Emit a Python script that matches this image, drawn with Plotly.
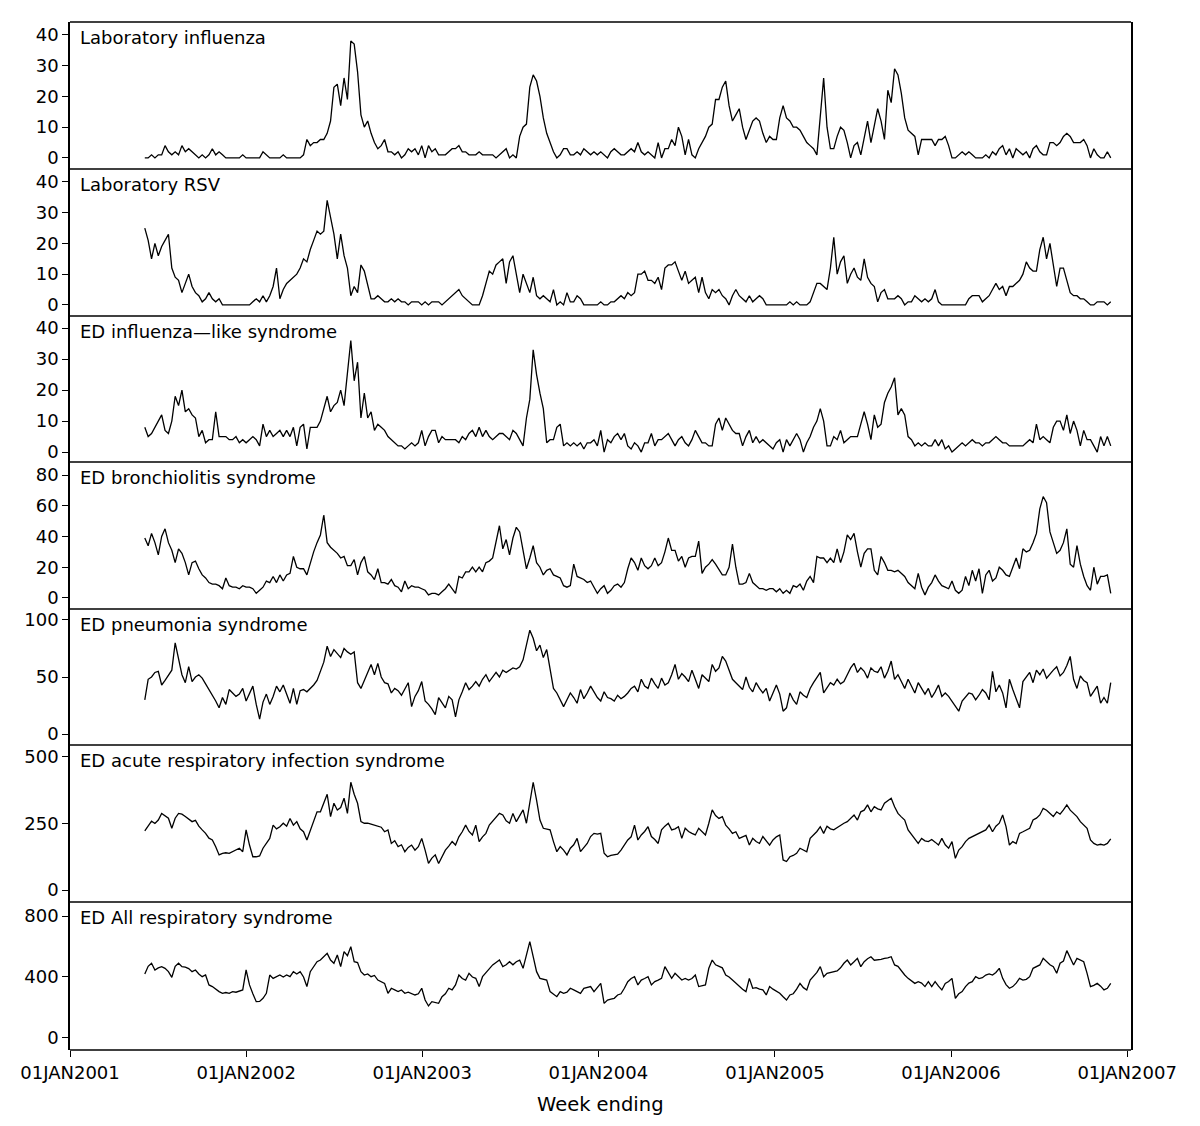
import pandas as pd
import plotly.graph_objects as go
from plotly.subplots import make_subplots

START = "2001-06-05"

LAB_FLU = [
    0, 0, 1, 0, 1, 1, 4, 2, 1, 2,
    1, 4, 2, 3, 2, 1, 0, 1, 0, 1,
    3, 1, 2, 1, 0, 0, 0, 0, 0, 1,
    0, 0, 0, 0, 0, 2, 1, 0, 0, 0,
    0, 1, 0, 0, 0, 0, 0, 1, 6, 4,
    5, 5, 6, 6, 8, 12, 23, 24, 17, 26,
    19, 38, 37, 28, 14, 10, 12, 8, 5, 3,
    4, 6, 2, 2, 1, 2, 0, 1, 3, 2,
    3, 1, 4, 0, 4, 2, 3, 1, 1, 1,
    2, 3, 3, 4, 2, 2, 1, 1, 1, 2,
    1, 1, 1, 1, 0, 1, 2, 3, 0, 1,
    0, 7, 10, 11, 23, 27, 25, 20, 13, 8,
    5, 2, 0, 1, 3, 3, 1, 1, 2, 1,
    3, 2, 1, 2, 1, 2, 1, 0, 2, 3,
    2, 1, 1, 2, 3, 2, 5, 2, 1, 2,
    1, 0, 5, 0, 3, 3, 6, 4, 10, 7,
    1, 6, 1, 0, 3, 5, 7, 10, 11, 19,
    19, 23, 25, 17, 12, 14, 16, 10, 6, 9,
    12, 13, 12, 8, 5, 7, 6, 6, 13, 17,
    13, 12, 10, 10, 9, 7, 5, 4, 3, 1,
    13, 26, 10, 3, 3, 7, 10, 9, 5, 0,
    4, 5, 1, 7, 12, 5, 11, 16, 12, 6,
    22, 18, 29, 27, 21, 13, 9, 8, 7, 1,
    6, 6, 6, 6, 4, 6, 6, 7, 4, 0,
    0, 1, 2, 1, 2, 1, 0, 0, 0, 1,
    0, 2, 1, 3, 4, 1, 3, 0, 3, 2,
    1, 2, 0, 3, 4, 2, 1, 1, 5, 5,
    4, 5, 7, 8, 7, 5, 5, 5, 6, 4,
    0, 3, 1, 0, 0, 2, 0,
]

LAB_RSV = [
    25, 21, 15, 20, 16, 19, 21, 23, 12, 9,
    8, 4, 7, 10, 6, 4, 3, 1, 2, 4,
    2, 1, 2, 0, 0, 0, 0, 0, 0, 0,
    0, 0, 1, 2, 1, 3, 1, 3, 6, 12,
    2, 5, 7, 8, 9, 10, 12, 15, 14, 18,
    21, 24, 23, 24, 34, 29, 23, 15, 23, 16,
    12, 3, 6, 4, 13, 11, 6, 2, 2, 3,
    2, 1, 1, 2, 1, 2, 1, 1, 0, 1,
    1, 1, 0, 1, 0, 1, 1, 1, 0, 1,
    2, 3, 4, 5, 3, 2, 1, 0, 0, 0,
    3, 7, 11, 10, 13, 14, 15, 7, 14, 16,
    10, 4, 10, 7, 4, 9, 3, 2, 3, 2,
    1, 5, 0, 1, 0, 4, 1, 1, 3, 2,
    0, 0, 0, 0, 0, 1, 0, 0, 1, 1,
    2, 3, 2, 4, 3, 4, 10, 10, 11, 8,
    8, 7, 9, 5, 12, 13, 13, 14, 11, 8,
    11, 7, 8, 9, 4, 9, 4, 2, 5, 4,
    5, 3, 2, 0, 3, 5, 3, 2, 1, 3,
    1, 2, 3, 2, 0, 0, 0, 0, 0, 0,
    0, 1, 0, 1, 0, 0, 0, 1, 4, 7,
    7, 6, 5, 12, 22, 10, 14, 16, 7, 10,
    12, 9, 8, 15, 9, 7, 6, 1, 4, 5,
    2, 2, 2, 3, 2, 0, 1, 1, 3, 2,
    1, 2, 1, 2, 5, 1, 0, 0, 0, 0,
    0, 0, 0, 0, 2, 3, 3, 3, 1, 2,
    3, 5, 7, 5, 6, 3, 6, 6, 7, 8,
    10, 14, 12, 11, 11, 18, 22, 15, 20, 13,
    6, 12, 12, 8, 4, 3, 3, 2, 2, 1,
    0, 0, 1, 1, 1, 0, 1,
]

ED_ILI = [
    8, 5, 6, 8, 10, 12, 7, 6, 10, 18,
    15, 20, 13, 14, 12, 11, 5, 7, 3, 4,
    4, 13, 5, 5, 5, 4, 4, 5, 3, 4,
    3, 4, 5, 4, 2, 9, 5, 7, 5, 6,
    7, 5, 7, 5, 8, 2, 8, 9, 1, 8,
    8, 8, 10, 14, 18, 13, 15, 16, 20, 15,
    25, 36, 23, 29, 11, 19, 11, 13, 7, 9,
    8, 7, 5, 4, 3, 2, 2, 1, 2, 3,
    2, 3, 7, 2, 5, 7, 7, 3, 5, 4,
    4, 4, 4, 3, 5, 4, 6, 7, 5, 8,
    5, 7, 5, 4, 5, 6, 6, 5, 4, 7,
    6, 4, 2, 11, 17, 33, 25, 19, 14, 3,
    4, 4, 8, 9, 2, 3, 2, 3, 2, 3,
    1, 3, 3, 4, 2, 7, 0, 4, 3, 5,
    6, 4, 6, 2, 1, 3, 2, 0, 3, 3,
    6, 2, 4, 4, 5, 6, 4, 2, 4, 5,
    3, 2, 4, 7, 5, 3, 3, 2, 2, 9,
    11, 7, 11, 9, 7, 6, 6, 2, 5, 7,
    3, 5, 3, 4, 3, 2, 1, 3, 4, 0,
    4, 2, 4, 6, 4, 0, 3, 5, 8, 10,
    14, 10, 2, 2, 5, 4, 7, 3, 4, 5,
    5, 5, 9, 13, 9, 4, 12, 8, 9, 16,
    19, 21, 24, 12, 14, 12, 5, 4, 2, 3,
    2, 3, 2, 2, 4, 2, 4, 1, 2, 0,
    1, 2, 3, 2, 3, 4, 3, 3, 2, 3,
    3, 4, 5, 4, 3, 3, 2, 2, 2, 2,
    2, 3, 4, 3, 9, 4, 5, 4, 3, 8,
    10, 10, 7, 12, 6, 10, 7, 2, 7, 4,
    4, 2, 0, 5, 2, 5, 2,
]

ED_BRONCH = [
    39, 34, 42, 36, 28, 40, 45, 36, 31, 23,
    32, 29, 23, 15, 23, 24, 19, 15, 13, 10,
    9, 9, 8, 6, 13, 8, 7, 7, 6, 8,
    7, 7, 6, 3, 5, 7, 11, 10, 14, 10,
    15, 11, 15, 16, 27, 20, 19, 19, 15, 23,
    30, 36, 41, 54, 36, 33, 31, 29, 26, 27,
    21, 21, 25, 15, 23, 27, 17, 15, 12, 19,
    10, 10, 9, 12, 8, 7, 4, 11, 6, 8,
    7, 7, 6, 5, 2, 3, 3, 2, 4, 6,
    9, 6, 3, 14, 13, 17, 17, 20, 17, 20,
    17, 23, 24, 26, 36, 47, 32, 38, 28, 39,
    46, 43, 31, 19, 26, 34, 23, 20, 15, 18,
    19, 15, 14, 13, 8, 7, 8, 22, 14, 13,
    12, 10, 11, 7, 3, 6, 8, 3, 5, 8,
    9, 7, 10, 19, 26, 23, 18, 26, 21, 19,
    21, 26, 21, 23, 30, 39, 31, 31, 24, 27,
    20, 26, 27, 27, 37, 16, 20, 22, 25, 22,
    18, 15, 15, 20, 35, 20, 9, 9, 10, 16,
    10, 8, 6, 6, 5, 6, 6, 4, 6, 3,
    5, 3, 8, 7, 9, 5, 11, 14, 10, 27,
    26, 26, 23, 26, 23, 32, 23, 30, 41, 38,
    42, 30, 20, 29, 32, 32, 18, 15, 27, 23,
    18, 18, 17, 18, 16, 14, 10, 8, 6, 16,
    7, 2, 7, 10, 15, 11, 8, 7, 6, 11,
    5, 3, 5, 14, 8, 18, 11, 19, 3, 15,
    18, 11, 13, 20, 18, 15, 14, 20, 26, 19,
    32, 30, 31, 36, 42, 58, 66, 62, 43, 36,
    29, 31, 36, 45, 22, 20, 34, 22, 14, 8,
    5, 20, 9, 14, 14, 15, 3,
]

ED_PNEU = [
    30, 48, 50, 54, 55, 43, 47, 51, 56, 80,
    67, 52, 45, 59, 46, 50, 52, 49, 44, 39,
    35, 29, 23, 32, 26, 39, 36, 33, 35, 40,
    29, 36, 42, 26, 13, 28, 35, 26, 33, 42,
    37, 43, 35, 27, 40, 26, 38, 39, 37, 40,
    43, 47, 55, 63, 77, 68, 74, 70, 67, 75,
    72, 70, 72, 45, 40, 47, 54, 61, 52, 62,
    50, 45, 44, 36, 40, 38, 34, 40, 45, 24,
    33, 38, 46, 29, 26, 22, 17, 32, 27, 23,
    33, 30, 15, 30, 37, 45, 39, 42, 46, 42,
    48, 52, 46, 50, 54, 50, 56, 54, 56, 58,
    57, 59, 65, 78, 91, 84, 73, 78, 67, 74,
    58, 40, 36, 30, 24, 30, 36, 32, 27, 39,
    31, 36, 42, 37, 32, 29, 37, 32, 31, 29,
    34, 31, 33, 36, 40, 42, 37, 48, 42, 40,
    49, 44, 40, 49, 43, 45, 52, 61, 48, 53,
    50, 46, 56, 48, 40, 52, 49, 46, 61, 55,
    58, 68, 64, 55, 48, 45, 42, 39, 50, 41,
    37, 45, 40, 36, 40, 29, 36, 43, 35, 20,
    23, 36, 30, 26, 37, 34, 32, 40, 45, 49,
    54, 36, 40, 45, 43, 48, 44, 46, 52, 58,
    62, 54, 58, 55, 49, 58, 55, 54, 59, 49,
    55, 64, 48, 52, 46, 40, 48, 42, 36, 45,
    40, 35, 40, 32, 37, 43, 33, 36, 33, 29,
    25, 20, 29, 33, 36, 35, 30, 34, 39, 36,
    30, 55, 37, 43, 36, 23, 48, 39, 30, 23,
    46, 50, 54, 45, 56, 52, 57, 49, 53, 56,
    59, 51, 54, 60, 68, 48, 40, 51, 47, 45,
    33, 38, 42, 27, 32, 27, 45,
]

ED_ARI = [
    222, 240, 259, 250, 263, 288, 280, 270, 232, 270,
    288, 285, 276, 265, 257, 262, 240, 226, 213, 195,
    188, 163, 132, 138, 140, 138, 145, 150, 157, 144,
    226, 169, 125, 125, 128, 157, 175, 194, 244, 230,
    238, 251, 240, 269, 244, 257, 230, 219, 188, 226,
    260, 294, 294, 330, 360, 276, 326, 301, 310, 345,
    288, 405, 360, 326, 257, 251, 251, 248, 244, 240,
    236, 219, 226, 175, 185, 163, 170, 144, 160, 169,
    150, 163, 194, 150, 100, 120, 132, 100, 125, 150,
    165, 182, 169, 200, 219, 244, 220, 207, 244, 182,
    200, 213, 244, 260, 276, 288, 282, 260, 251, 288,
    257, 280, 301, 251, 326, 405, 338, 263, 232, 230,
    226, 182, 144, 163, 150, 132, 157, 170, 194, 144,
    160, 175, 201, 213, 210, 213, 138, 125, 130, 132,
    135, 150, 169, 188, 200, 244, 188, 207, 220, 238,
    201, 190, 175, 226, 240, 251, 226, 230, 238, 194,
    232, 220, 213, 207, 232, 220, 207, 251, 301, 280,
    269, 276, 244, 230, 213, 219, 194, 200, 205, 169,
    194, 182, 175, 201, 185, 169, 188, 200, 207, 113,
    107, 125, 130, 138, 157, 150, 144, 194, 207, 220,
    238, 213, 240, 230, 226, 235, 244, 251, 257, 270,
    282, 263, 294, 300, 320, 294, 313, 305, 301, 326,
    335, 345, 313, 288, 275, 263, 226, 210, 194, 175,
    194, 185, 182, 190, 180, 169, 194, 170, 157, 182,
    119, 150, 163, 182, 194, 200, 207, 213, 220, 226,
    244, 219, 240, 251, 282, 238, 169, 182, 175, 213,
    219, 225, 232, 263, 270, 282, 307, 300, 288, 276,
    294, 285, 301, 320, 300, 288, 276, 257, 245, 232,
    188, 175, 169, 172, 169, 175, 192,
]

ED_ALL = [
    420, 470, 490, 446, 460, 468, 457, 435, 398, 470,
    490, 468, 465, 455, 435, 446, 420, 402, 413, 348,
    337, 320, 304, 293, 298, 293, 304, 300, 310, 315,
    446, 348, 290, 238, 240, 260, 293, 413, 391, 400,
    413, 400, 413, 402, 435, 420, 435, 400, 337, 435,
    470, 500, 511, 530, 555, 511, 490, 544, 468, 566,
    540, 599, 500, 495, 435, 413, 420, 402, 410, 380,
    370, 358, 293, 326, 315, 304, 315, 293, 300, 293,
    282, 290, 326, 249, 210, 238, 230, 227, 271, 290,
    326, 315, 348, 413, 390, 380, 424, 400, 391, 337,
    402, 430, 457, 479, 495, 511, 468, 480, 500, 480,
    500, 511, 457, 544, 632, 533, 435, 391, 385, 380,
    304, 290, 271, 304, 293, 300, 326, 315, 305, 293,
    326, 330, 337, 304, 330, 358, 227, 249, 255, 260,
    282, 290, 326, 369, 390, 402, 348, 380, 390, 402,
    348, 370, 380, 391, 468, 430, 391, 424, 400, 380,
    391, 380, 390, 413, 337, 345, 348, 457, 511, 480,
    468, 460, 413, 400, 380, 358, 337, 320, 304, 391,
    326, 330, 320, 315, 282, 337, 320, 304, 293, 270,
    249, 282, 290, 320, 358, 330, 315, 380, 402, 430,
    468, 402, 424, 430, 435, 440, 460, 490, 511, 479,
    500, 522, 468, 500, 520, 533, 510, 511, 515, 522,
    525, 533, 479, 470, 440, 413, 391, 375, 358, 369,
    360, 337, 369, 337, 369, 340, 315, 358, 370, 391,
    260, 290, 304, 337, 360, 369, 402, 390, 395, 413,
    420, 413, 430, 457, 391, 350, 326, 337, 360, 391,
    380, 385, 402, 457, 470, 479, 522, 500, 480, 468,
    424, 490, 505, 573, 520, 479, 522, 510, 500, 424,
    337, 345, 358, 340, 315, 326, 358,
]

PANEL_TITLES = [
    "Laboratory influenza",
    "Laboratory RSV",
    "ED influenza\u2014like syndrome",
    "ED bronchiolitis syndrome",
    "ED pneumonia syndrome",
    "ED acute respiratory infection syndrome",
    "ED All respiratory syndrome",
]
SERIES = [LAB_FLU, LAB_RSV, ED_ILI, ED_BRONCH, ED_PNEU, ED_ARI, ED_ALL]
Y_TICKS = [
    [0, 10, 20, 30, 40],
    [0, 10, 20, 30, 40],
    [0, 10, 20, 30, 40],
    [0, 20, 40, 60, 80],
    [0, 50, 100],
    [0, 250, 500],
    [0, 400, 800],
]
YEARS = [2001, 2002, 2003, 2004, 2005, 2006, 2007]
X_TICK_LABELS = ["01JAN%d" % y for y in YEARS]
X_TITLE = "Week ending"

# page has an 8px body margin; target pixel positions are page coordinates
OFF = 8
W, H = 1200 - OFF, 1126 - OFF
LEFT, RIGHT, TOP, BOTTOM = 70 - OFF, 1131 - OFF, 22 - OFF, 1050 - OFF
BOUNDS = [22, 169, 316, 462, 609, 745, 902, 1050]
Y_RANGES = [
    [-3.6, 44.2],
    [-3.6, 44.2],
    [-3.2, 43.9],
    [-7.2, 88.5],
    [-9.6, 109.6],
    [-45, 545],
    [-79, 892],
]

heights = [BOUNDS[k + 1] - BOUNDS[k] for k in range(7)]
fig = make_subplots(rows=7, cols=1, shared_xaxes=True, vertical_spacing=0,
                    row_heights=heights)

FONT = "DejaVu Sans"
for k, vals in enumerate(SERIES):
    dates = pd.date_range(START, periods=len(vals), freq="7D")
    fig.add_trace(go.Scatter(x=dates, y=vals, mode="lines",
                             line=dict(color="black", width=1.3),
                             showlegend=False, hoverinfo="skip"),
                  row=k + 1, col=1)

tickdates = [pd.Timestamp(year=y, month=1, day=1) for y in YEARS]
for k in range(7):
    r = k + 1
    fig.update_yaxes(row=r, col=1, range=Y_RANGES[k], tickvals=Y_TICKS[k],
                     ticktext=[str(v) for v in Y_TICKS[k]],
                     showgrid=False, zeroline=False, showline=True,
                     mirror=True, linecolor="black", linewidth=1.5,
                     ticks="outside", ticklen=6, tickwidth=1.2,
                     tickcolor="black",
                     tickfont=dict(family=FONT, size=18, color="black"))
    last = (r == 7)
    fig.update_xaxes(row=r, col=1,
                     range=[pd.Timestamp("2001-01-01"), pd.Timestamp("2007-01-09")],
                     tickvals=tickdates, ticktext=X_TICK_LABELS,
                     showticklabels=last, ticks="outside" if last else "",
                     ticklen=6, tickwidth=1.2, tickcolor="black",
                     showgrid=False, zeroline=False, showline=False,
                     tickfont=dict(family=FONT, size=18, color="black"))
    yref = "y domain" if r == 1 else "y%d domain" % r
    fig.add_annotation(text=PANEL_TITLES[k], xref="paper", yref=yref,
                       x=8 / (RIGHT - LEFT), y=1, xanchor="left",
                       yanchor="top", yshift=-3, showarrow=False,
                       font=dict(family=FONT, size=18, color="black"))

# horizontal frame lines: top, panel separators, bottom
total = BOUNDS[-1] - BOUNDS[0]
for b in BOUNDS:
    yp = (BOUNDS[-1] - b) / total
    fig.add_shape(type="line", xref="paper", yref="paper", x0=0, x1=1,
                  y0=yp, y1=yp, line=dict(color="black", width=1.6))

fig.add_annotation(text=X_TITLE, xref="paper", yref="paper", x=0.5, y=0,
                   yshift=-54, xanchor="center", yanchor="middle",
                   showarrow=False,
                   font=dict(family=FONT, size=19.5, color="black"))

fig.update_layout(width=W, height=H, autosize=False,
                  margin=dict(l=LEFT, r=W - RIGHT, t=TOP, b=H - BOTTOM),
                  paper_bgcolor="white", plot_bgcolor="white")

fig.write_html("out.html")
